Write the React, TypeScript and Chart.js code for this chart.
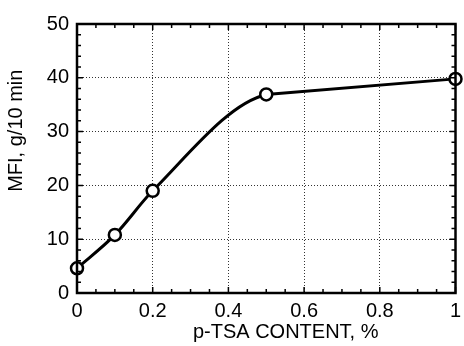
import React, { useEffect, useRef } from "react";
import { Chart, registerables } from "chart.js";

Chart.register(...registerables);

const xValues = [0, 0.1, 0.2, 0.5, 1];
const mfiValues = [4.6, 10.8, 19.0, 36.9, 39.8];
const xTicks = [0, 0.2, 0.4, 0.6, 0.8, 1];
const yTicks = [0, 10, 20, 30, 40, 50];
const xTitle = "p-TSA CONTENT, %";
const yTitle = "MFI, g/10 min";

const FONT = "'Liberation Sans', Arial, sans-serif";

const framePlugin = {
  id: "frame",
  afterDraw(chart: any) {
    const { ctx, chartArea: a, scales } = chart;
    const xs = scales.x;
    const ys = scales.y;
    ctx.save();
    ctx.strokeStyle = "#000";
    ctx.lineWidth = 1.5;
    ctx.beginPath();
    for (let v = 0; v <= 1.0001; v += 0.05) {
      const px = xs.getPixelForValue(v);
      const major = Math.abs(v * 5 - Math.round(v * 5)) < 1e-6;
      const len = major ? 6 : 4;
      ctx.moveTo(px, a.bottom);
      ctx.lineTo(px, a.bottom - len);
      ctx.moveTo(px, a.top);
      ctx.lineTo(px, a.top + len);
    }
    for (let v = 0; v <= 50.001; v += 2) {
      const py = ys.getPixelForValue(v);
      const major = v % 10 === 0;
      const len = major ? 6 : 4;
      ctx.moveTo(a.left, py);
      ctx.lineTo(a.left + len, py);
      ctx.moveTo(a.right, py);
      ctx.lineTo(a.right - len, py);
    }
    ctx.stroke();
    ctx.lineWidth = 2.5;
    ctx.strokeRect(a.left, a.top, a.right - a.left, a.bottom - a.top);
    ctx.restore();
  },
};

const points = xValues.map((x, i) => ({ x, y: mfiValues[i] }));
const lastIdx = points.length - 1;

export default function App() {
  const ref = useRef<HTMLCanvasElement | null>(null);
  useEffect(() => {
    document.body.style.margin = "0";
    const chart = new Chart(ref.current as HTMLCanvasElement, {
      type: "line",
      data: {
        datasets: [
          {
            data: points.slice(lastIdx - 1),
            borderColor: "#000",
            borderWidth: 3,
            tension: 0,
            pointRadius: 0,
            clip: false as any,
            order: 2,
          },
          {
            data: points,
            borderColor: "#000",
            borderWidth: 3,
            cubicInterpolationMode: "monotone",
            segment: {
              borderColor: (c: any) => (c.p0DataIndex === lastIdx - 1 ? "rgba(0,0,0,0)" : "#000"),
            },
            pointRadius: 6,
            pointBorderWidth: 2.5,
            pointBackgroundColor: "#fff",
            pointBorderColor: "#000",
            clip: false as any,
            order: 1,
          },
        ],
      },
      options: {
        animation: false,
        responsive: false,
        maintainAspectRatio: false,
        layout: { padding: { top: 24, right: 4, left: 0, bottom: 0 } },
        plugins: { legend: { display: false }, tooltip: { enabled: false } },
        scales: {
          x: {
            type: "linear",
            min: 0,
            max: 1,
            afterBuildTicks: (s: any) => {
              s.ticks = xTicks.map((v) => ({ value: v }));
            },
            afterFit: (s: any) => {
              s.height = 53;
              s.paddingRight = 0;
              s.paddingLeft = 0;
            },
            ticks: {
              color: "#000",
              font: { family: FONT, size: 20 },
              padding: 6,
              maxRotation: 0,
              callback: (v: any) => String(v),
            },
            grid: {
              color: "#333",
              lineWidth: 1,
              drawTicks: false,
            },
            border: { display: false, dash: [1, 2] },
            title: {
              display: true,
              text: "       " + xTitle,
              color: "#000",
              font: { family: FONT, size: 20 },
              padding: { top: 0, bottom: 2 },
            },
          },
          y: {
            type: "linear",
            min: 0,
            max: 50,
            afterBuildTicks: (s: any) => {
              s.ticks = yTicks.map((v) => ({ value: v }));
            },
            afterFit: (s: any) => {
              s.width = 77;
            },
            ticks: {
              color: "#000",
              font: { family: FONT, size: 20 },
              padding: 8,
            },
            grid: {
              color: "#333",
              lineWidth: 1,
              drawTicks: false,
            },
            border: { display: false, dash: [1, 2] },
            title: {
              display: true,
              text: "          " + yTitle,
              color: "#000",
              font: { family: FONT, size: 20 },
              padding: { top: 4, bottom: 0 },
            },
          },
        },
      },
      plugins: [framePlugin],
    } as any);
    return () => chart.destroy();
  }, []);
  return (
    <div style={{ position: "absolute", left: 0, top: 0, width: 464, height: 346, background: "#fff" }}>
      <canvas ref={ref} width={464} height={346} style={{ display: "block" }} />
    </div>
  );
}
